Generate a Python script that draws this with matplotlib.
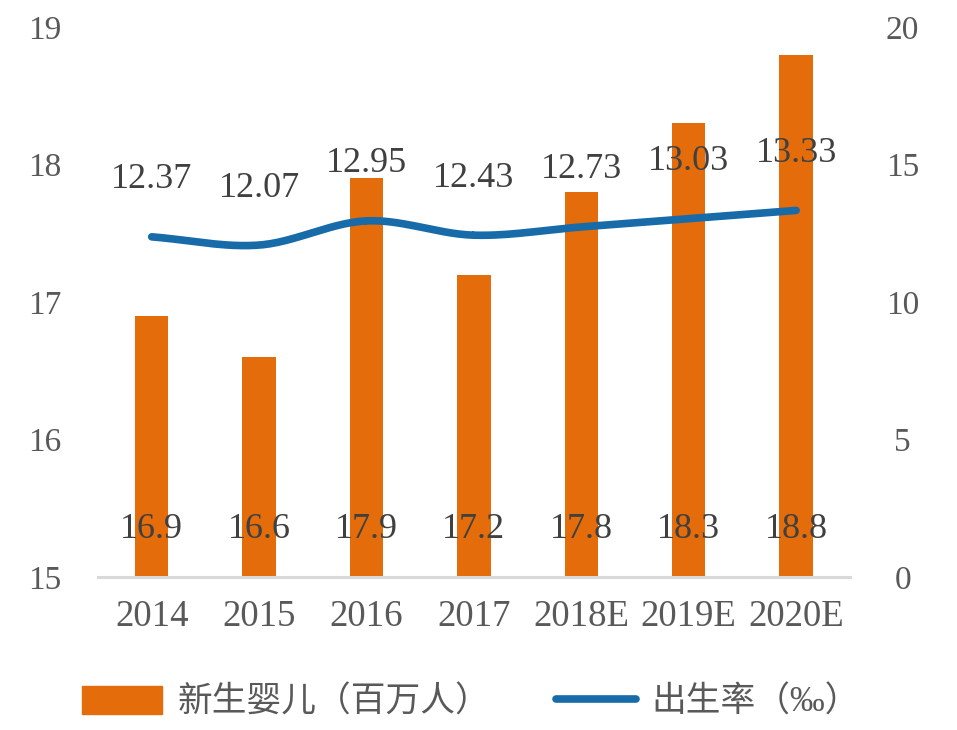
import matplotlib.pyplot as plt
import numpy as np
from matplotlib.patches import Patch
from matplotlib.lines import Line2D

years = ['2014', '2015', '2016', '2017', '2018E', '2019E', '2020E']
babies = [16.9, 16.6, 17.9, 17.2, 17.8, 18.3, 18.8]       # 新生婴儿（百万人）
birth_rate = [12.37, 12.07, 12.95, 12.43, 12.73, 13.03, 13.33]  # 出生率（‰）

BAR_COLOR = '#E46C0A'
LINE_COLOR = '#176BA9'
TICK_GRAY = '#595959'
LABEL_GRAY = '#404040'

plt.rcParams['font.family'] = ['Liberation Serif', 'Noto Sans CJK SC', 'DejaVu Sans']


def catmull_rom(xs, ys, n=30):
    # smooth curve passing through every point (like Excel's smoothed line)
    px = np.concatenate([[2 * xs[0] - xs[1]], xs, [2 * xs[-1] - xs[-2]]])
    py = np.concatenate([[2 * ys[0] - ys[1]], ys, [2 * ys[-1] - ys[-2]]])
    out_x, out_y = [], []
    t = np.linspace(0, 1, n)
    for i in range(1, len(px) - 2):
        for p, out in ((px, out_x), (py, out_y)):
            p0, p1, p2, p3 = p[i - 1], p[i], p[i + 1], p[i + 2]
            out.extend(0.5 * (2 * p1 + (-p0 + p2) * t
                              + (2 * p0 - 5 * p1 + 4 * p2 - p3) * t ** 2
                              + (-p0 + 3 * p1 - 3 * p2 + p3) * t ** 3))
    return np.array(out_x), np.array(out_y)


fig = plt.figure(figsize=(9.57, 7.3), dpi=100)
ax = fig.add_axes([0.1024, 0.2096, 0.7856, 0.7534])
ax2 = ax.twinx()

x = np.arange(len(years))
ax.bar(x, [b - 15 for b in babies], bottom=15, width=0.31, color=BAR_COLOR, zorder=2)
ax.set_ylim(15, 19)
ax.set_xlim(-0.5, len(years) - 0.5)
ax.set_yticks([15, 16, 17, 18, 19])
ax.set_xticks(x)
ax.set_xticklabels(years)

for xi, v in zip(x, babies):
    ax.annotate(f'{v}', (xi, 15), xytext=(0, 34), textcoords='offset points',
                ha='center', va='center', fontsize=26, color=LABEL_GRAY)

sx, sy = catmull_rom(x.astype(float), np.array(birth_rate))
ax2.plot(sx, sy, color=LINE_COLOR, lw=5.5, solid_capstyle='round')
ax2.set_ylim(0, 20)
ax2.set_yticks([0, 5, 10, 15, 20])

for xi, v in zip(x, birth_rate):
    ax2.annotate(f'{v:.2f}', (xi, v), xytext=(0, 41), textcoords='offset points',
                 ha='center', va='center', fontsize=26, color=LABEL_GRAY)

for a in (ax, ax2):
    for s in a.spines.values():
        s.set_visible(False)
    a.tick_params(length=0, labelsize=24, labelcolor=TICK_GRAY)
ax.spines['bottom'].set_visible(True)
ax.spines['bottom'].set_color('#D9D9D9')
ax.spines['bottom'].set_linewidth(2.2)
ax.tick_params(axis='y', pad=38)
ax.tick_params(axis='x', pad=16, labelsize=26.5)
ax2.tick_params(axis='y', pad=38)
for lbl in ax.get_yticklabels():
    lbl.set_horizontalalignment('center')
for lbl in ax2.get_yticklabels():
    lbl.set_horizontalalignment('center')

handles = [Patch(color=BAR_COLOR), Line2D([], [], color=LINE_COLOR, lw=5.5, solid_capstyle='round')]
leg = fig.legend(handles, ['新生婴儿（百万人）', '出生率（‰）'], loc='center',
                 bbox_to_anchor=(0.492, 1 - 703 / 730), ncol=2, frameon=False,
                 fontsize=25, handlelength=2.3, handleheight=0.85,
                 columnspacing=1.9, handletextpad=0.45)
for t in leg.get_texts():
    t.set_color(TICK_GRAY)

fig.savefig('out.png', dpi=100)
